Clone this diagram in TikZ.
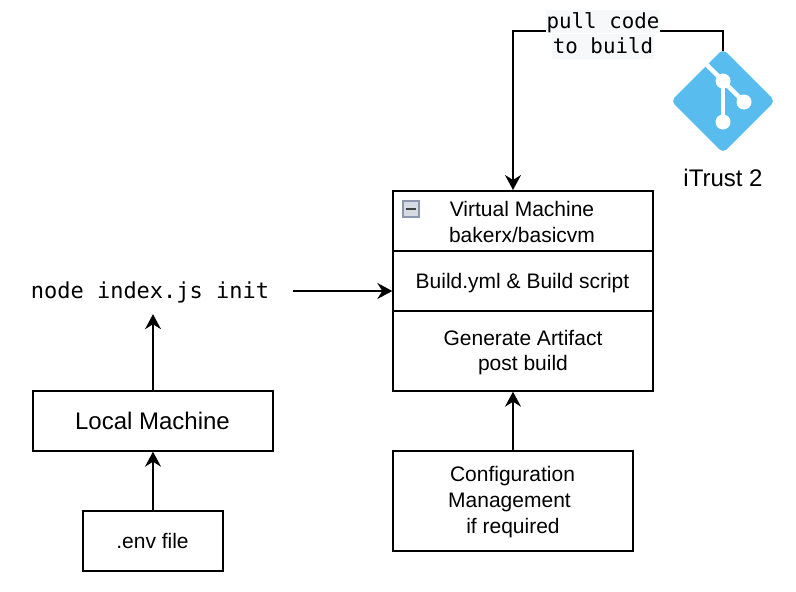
\documentclass[tikz,border=0pt]{standalone}
\usepackage{fontspec}
\setmainfont{Liberation Sans}
\newfontfamily\codefont{DejaVu Sans Mono}
\usetikzlibrary{arrows.meta}
\definecolor{gitblue}{HTML}{58BDEE}
\definecolor{codebg}{HTML}{F6F8FA}
\definecolor{iconedge}{HTML}{8C96AC}
\definecolor{iconfill}{HTML}{D5DAE3}
\tikzset{
  box/.style={draw=black,line width=1.4pt,fill=white,inner sep=0pt},
  boxtext/.style={align=center,inner sep=0pt,font=\fontsize{21}{25.7}\selectfont},
  bigtext/.style={align=center,inner sep=0pt,font=\fontsize{24}{28}\selectfont},
  conn/.style={draw=black,line width=1.4pt,-{Stealth[length=15pt,width=16pt,inset=5pt]}},
  codelabel/.style={fill=codebg,inner xsep=1pt,inner ysep=0pt,font=\codefont\fontsize{20.8}{24}\selectfont},
}
\begin{document}
\begin{tikzpicture}[x=1pt,y=-1pt]
\useasboundingbox (0,0) rectangle (796,592);
% git logo
\begin{scope}
\fill[gitblue,rounded corners=5pt] (723,49) -- (775,101) -- (723,153) -- (671,101) -- cycle;
\draw[white,line width=4.5pt] (703,61) -- (723,81) -- (744,102);
\draw[white,line width=4.5pt] (723,81) -- (723,122);
\fill[white] (723,81) circle (7.5pt) (744,102) circle (7.5pt) (723,122) circle (7.5pt);
\end{scope}
\coordinate (gittop) at (723,51);
\node[bigtext] (itrust) at (723,178) {iTrust 2};
% boxes
\node[box,minimum width=260pt,minimum height=60pt] (vmtitle) at (523,221) {};
\node[boxtext] (vmtext) at (522,222) {Virtual Machine\\bakerx/basicvm};
\node[box,minimum width=260pt,minimum height=60pt] (vmbuild) at (523,281) {};
\node[boxtext] (vmbuildtext) at (522.5,283) {Build.yml \& Build script};
\node[box,minimum width=260pt,minimum height=80pt] (vmart) at (523,351) {};
\node[boxtext] (vmarttext) at (523,352.5) {Generate Artifact\\post build};
\node[box,minimum width=240pt,minimum height=100pt] (cfg) at (513,501) {};
\node[boxtext] (cfgtext) at (513,502) {\mbox{\hspace{-1pt}Configuration}\\\mbox{Management\hspace{7pt}}\\if required};
\node[box,minimum width=240pt,minimum height=60pt] (local) at (153,421) {};
\node[bigtext] (localtext) at (152.5,420.5) {Local Machine};
\node[box,minimum width=140pt,minimum height=60pt] (env) at (153,541) {};
\node[boxtext] (envtext) at (152.5,540.5) {.env file};
\node[minimum width=286pt,minimum height=46pt,inner sep=0pt] (cmd) at (150,291) {};
\node[font=\codefont\fontsize{22}{26}\selectfont,inner sep=0pt] (cmdtext) at (150,292) {node index.js init};
% collapse icon
\node[draw=iconedge,fill=iconfill,line width=1.2pt,minimum size=16pt,inner sep=0pt] (collapse) at (411,209) {};
\draw[black!75,line width=1.6pt] (collapse.center) ++(-5,0) -- ++(10,0);
% connectors
\draw[conn] (env.north) -- (local.south);
\draw[conn] (local.north) -- (local.north |- cmd.south);
\draw[conn] (cmd.east) -- (vmbuild.west |- cmd.east);
\draw[conn] (cfg.north) -- (cfg.north |- vmart.south);
\draw[conn] (gittop) -- (723,31) -- (513,31) -- (513,190) coordinate (vmin);
\node[codelabel,text height=18.5pt,text depth=4.5pt] (pulla) at (603,21.5) {pull code};
\node[codelabel,text height=19.5pt,text depth=6pt] (pullb) at (603,46.25) {to build};
\end{tikzpicture}
\end{document}
